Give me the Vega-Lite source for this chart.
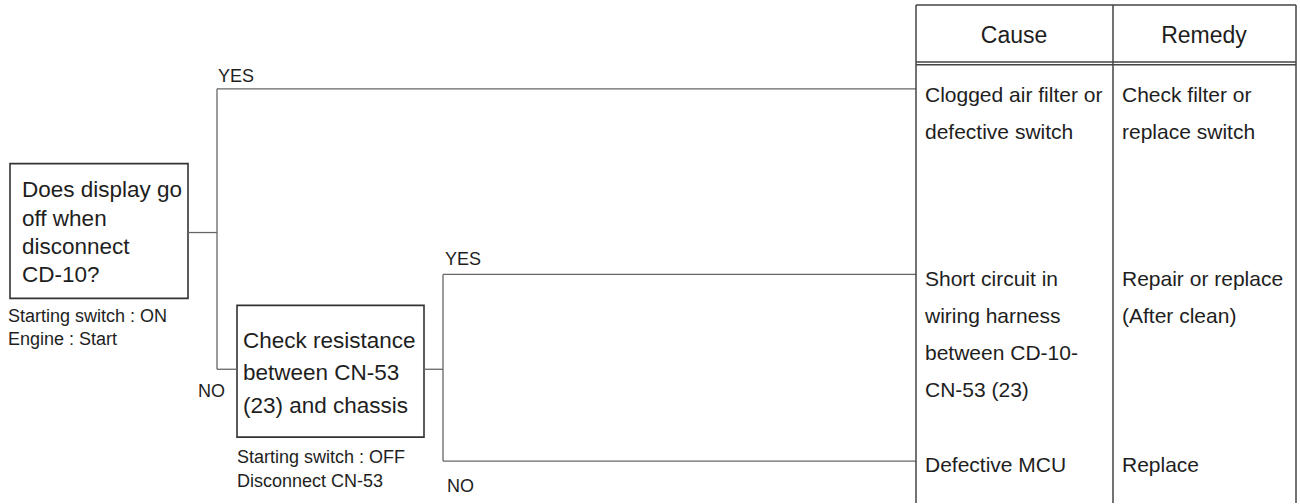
{
  "$schema": "https://vega.github.io/schema/vega-lite/v6.json",
  "width": 1300,
  "height": 504,
  "padding": 0,
  "autosize": {"type": "fit", "contains": "padding"},
  "background": "white",
  "config": {"view": {"stroke": null}, "axis": {"disable": true}, "text": {"font": "Liberation Sans", "color": "#1e1e1e"}},
  "datasets": {
    "boxes": [
      {"x": 10, "x2": 188, "y": 164, "y2": 299},
      {"x": 237, "x2": 424, "y": 306, "y2": 438}
    ],
    "lines": [
      {"x": 188, "x2": 217, "y": 233, "y2": 233},
      {"x": 217, "x2": 217, "y": 89, "y2": 370},
      {"x": 217, "x2": 916, "y": 89, "y2": 89},
      {"x": 217, "x2": 237, "y": 370, "y2": 370},
      {"x": 424, "x2": 443, "y": 370, "y2": 370},
      {"x": 443, "x2": 443, "y": 275, "y2": 462},
      {"x": 443, "x2": 916, "y": 275, "y2": 275},
      {"x": 443, "x2": 916, "y": 462, "y2": 462}
    ],
    "table": [
      {"x": 916, "x2": 1296, "y": 5, "y2": 5},
      {"x": 916, "x2": 916, "y": 5, "y2": 504},
      {"x": 1113, "x2": 1113, "y": 5, "y2": 504},
      {"x": 1296, "x2": 1296, "y": 5, "y2": 504},
      {"x": 916, "x2": 1296, "y": 62, "y2": 62},
      {"x": 916, "x2": 1296, "y": 65, "y2": 65}
    ],
    "boxText": [
      {"x": 22, "y": 197, "text": "Does display go"},
      {"x": 22, "y": 226, "text": "off when"},
      {"x": 22, "y": 255, "text": "disconnect"},
      {"x": 22, "y": 283, "text": "CD-10?"},
      {"x": 243, "y": 349, "text": "Check resistance"},
      {"x": 243, "y": 381, "text": "between CN-53"},
      {"x": 243, "y": 414, "text": "(23) and chassis"}
    ],
    "headers": [
      {"x": 1014, "y": 43, "text": "Cause"},
      {"x": 1204, "y": 43, "text": "Remedy"}
    ],
    "tableText": [
      {"x": 925, "y": 102, "text": "Clogged air filter or"},
      {"x": 925, "y": 139, "text": "defective switch"},
      {"x": 925, "y": 287, "text": "Short circuit in"},
      {"x": 925, "y": 324, "text": "wiring harness"},
      {"x": 925, "y": 361, "text": "between CD-10-"},
      {"x": 925, "y": 398, "text": "CN-53 (23)"},
      {"x": 925, "y": 473, "text": "Defective MCU"},
      {"x": 1122, "y": 102, "text": "Check filter or"},
      {"x": 1122, "y": 139, "text": "replace switch"},
      {"x": 1122, "y": 287, "text": "Repair or replace"},
      {"x": 1122, "y": 324, "text": "(After clean)"},
      {"x": 1122, "y": 473, "text": "Replace"}
    ],
    "labels": [
      {"x": 218, "y": 82, "text": "YES"},
      {"x": 445, "y": 266, "text": "YES"},
      {"x": 198, "y": 398, "text": "NO"},
      {"x": 447, "y": 493, "text": "NO"}
    ],
    "small": [
      {"x": 8, "y": 323, "text": "Starting switch : ON"},
      {"x": 8, "y": 346, "text": "Engine : Start"},
      {"x": 237, "y": 464, "text": "Starting switch : OFF"},
      {"x": 237, "y": 488, "text": "Disconnect CN-53"}
    ]
  },
  "layer": [
    {
      "data": {"name": "boxes"},
      "mark": {"type": "rect", "fill": "white", "stroke": "#333", "strokeWidth": 1.6},
      "encoding": {
        "x": {"field": "x", "type": "quantitative", "scale": {"domain": [0, 1300], "nice": false, "zero": false}},
        "x2": {"field": "x2"},
        "y": {"field": "y", "type": "quantitative", "scale": {"domain": [0, 504], "reverse": true, "nice": false, "zero": false}},
        "y2": {"field": "y2"}
      }
    },
    {
      "data": {"name": "lines"},
      "mark": {"type": "rule", "stroke": "#666", "strokeWidth": 1.3},
      "encoding": {
        "x": {"field": "x", "type": "quantitative"},
        "x2": {"field": "x2"},
        "y": {"field": "y", "type": "quantitative"},
        "y2": {"field": "y2"}
      }
    },
    {
      "data": {"name": "table"},
      "mark": {"type": "rule", "stroke": "#444", "strokeWidth": 1.5},
      "encoding": {
        "x": {"field": "x", "type": "quantitative"},
        "x2": {"field": "x2"},
        "y": {"field": "y", "type": "quantitative"},
        "y2": {"field": "y2"}
      }
    },
    {
      "data": {"name": "boxText"},
      "mark": {"type": "text", "align": "left", "baseline": "alphabetic", "fontSize": 22.5},
      "encoding": {
        "x": {"field": "x", "type": "quantitative"},
        "y": {"field": "y", "type": "quantitative"},
        "text": {"field": "text"}
      }
    },
    {
      "data": {"name": "headers"},
      "mark": {"type": "text", "align": "center", "baseline": "alphabetic", "fontSize": 23},
      "encoding": {
        "x": {"field": "x", "type": "quantitative"},
        "y": {"field": "y", "type": "quantitative"},
        "text": {"field": "text"}
      }
    },
    {
      "data": {"name": "tableText"},
      "mark": {"type": "text", "align": "left", "baseline": "alphabetic", "fontSize": 21},
      "encoding": {
        "x": {"field": "x", "type": "quantitative"},
        "y": {"field": "y", "type": "quantitative"},
        "text": {"field": "text"}
      }
    },
    {
      "data": {"name": "labels"},
      "mark": {"type": "text", "align": "left", "baseline": "alphabetic", "fontSize": 18},
      "encoding": {
        "x": {"field": "x", "type": "quantitative"},
        "y": {"field": "y", "type": "quantitative"},
        "text": {"field": "text"}
      }
    },
    {
      "data": {"name": "small"},
      "mark": {"type": "text", "align": "left", "baseline": "alphabetic", "fontSize": 18},
      "encoding": {
        "x": {"field": "x", "type": "quantitative"},
        "y": {"field": "y", "type": "quantitative"},
        "text": {"field": "text"}
      }
    }
  ]
}
